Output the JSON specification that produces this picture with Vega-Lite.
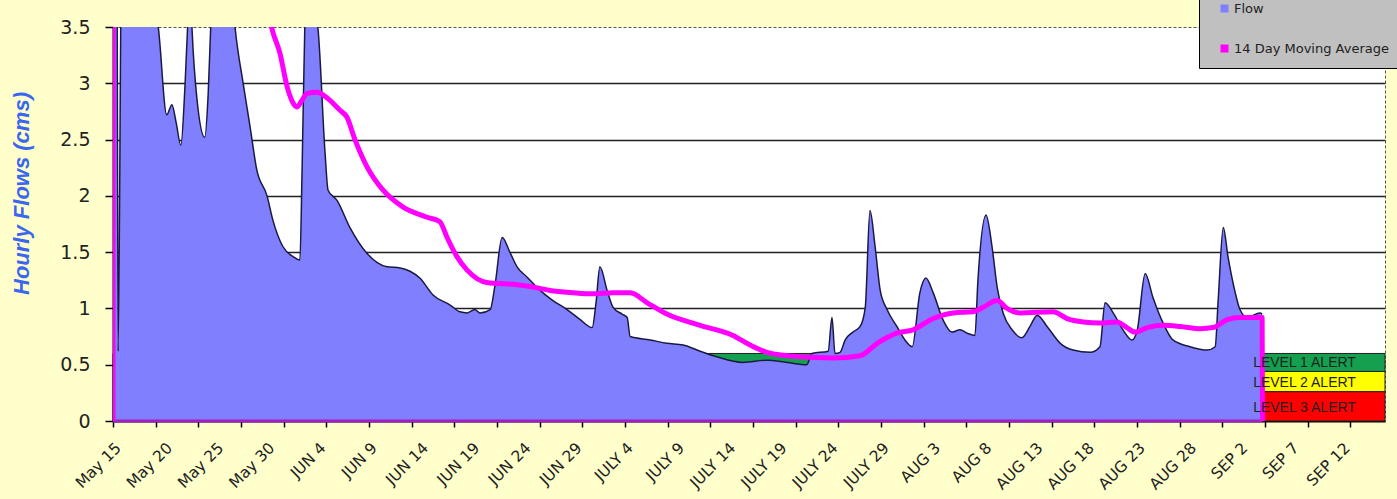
{
  "$schema": "https://vega.github.io/schema/vega-lite/v6.json",
  "width": 1272,
  "height": 394,
  "autosize": {"type": "none"},
  "padding": {"left": 113, "top": 27, "right": 12, "bottom": 78},
  "background": "#FFFFCC",
  "config": {"view": {"fill": "#FFFFFF", "stroke": "#555555", "strokeDash": [3, 2], "strokeWidth": 1}},
  "datasets": {
    "flow": [
      {"t": "2024-05-15T00:00Z", "v": 4.5},
      {"t": "2024-05-15T09:00Z", "v": 4.5},
      {"t": "2024-05-15T12:00Z", "v": 0.62},
      {"t": "2024-05-15T21:00Z", "v": 4.5},
      {"t": "2024-05-17T00:00Z", "v": 4.2},
      {"t": "2024-05-19T06:00Z", "v": 3.6},
      {"t": "2024-05-19T10:00Z", "v": 3.5},
      {"t": "2024-05-20T06:00Z", "v": 2.72},
      {"t": "2024-05-20T18:00Z", "v": 2.81},
      {"t": "2024-05-21T04:00Z", "v": 2.65},
      {"t": "2024-05-21T15:00Z", "v": 2.45},
      {"t": "2024-05-22T01:00Z", "v": 3.0},
      {"t": "2024-05-22T08:00Z", "v": 3.6},
      {"t": "2024-05-22T12:00Z", "v": 4.0},
      {"t": "2024-05-22T17:00Z", "v": 3.5},
      {"t": "2024-05-23T05:00Z", "v": 2.85},
      {"t": "2024-05-23T23:00Z", "v": 2.52},
      {"t": "2024-05-24T07:00Z", "v": 2.9},
      {"t": "2024-05-24T14:00Z", "v": 3.6},
      {"t": "2024-05-25T11:00Z", "v": 4.5},
      {"t": "2024-05-26T15:00Z", "v": 3.8},
      {"t": "2024-05-26T22:00Z", "v": 3.5},
      {"t": "2024-05-27T17:00Z", "v": 3.0},
      {"t": "2024-05-28T09:00Z", "v": 2.62},
      {"t": "2024-05-29T01:00Z", "v": 2.23},
      {"t": "2024-05-30T01:00Z", "v": 2.0},
      {"t": "2024-05-30T15:00Z", "v": 1.78},
      {"t": "2024-05-31T14:00Z", "v": 1.55},
      {"t": "2024-06-01T14:00Z", "v": 1.46},
      {"t": "2024-06-02T06:00Z", "v": 1.43},
      {"t": "2024-06-02T11:00Z", "v": 2.2},
      {"t": "2024-06-02T18:00Z", "v": 3.6},
      {"t": "2024-06-03T08:00Z", "v": 4.5},
      {"t": "2024-06-03T20:00Z", "v": 3.6},
      {"t": "2024-06-04T00:00Z", "v": 3.5},
      {"t": "2024-06-04T17:00Z", "v": 2.38},
      {"t": "2024-06-05T00:00Z", "v": 2.05},
      {"t": "2024-06-05T21:00Z", "v": 1.96},
      {"t": "2024-06-07T03:00Z", "v": 1.72},
      {"t": "2024-06-08T19:00Z", "v": 1.49},
      {"t": "2024-06-10T18:00Z", "v": 1.37},
      {"t": "2024-06-12T01:00Z", "v": 1.36},
      {"t": "2024-06-13T00:00Z", "v": 1.33},
      {"t": "2024-06-13T23:00Z", "v": 1.27},
      {"t": "2024-06-15T06:00Z", "v": 1.12},
      {"t": "2024-06-16T22:00Z", "v": 1.03},
      {"t": "2024-06-17T21:00Z", "v": 0.97},
      {"t": "2024-06-18T14:00Z", "v": 0.96},
      {"t": "2024-06-19T08:00Z", "v": 0.99},
      {"t": "2024-06-19T20:00Z", "v": 0.96},
      {"t": "2024-06-20T20:00Z", "v": 0.99},
      {"t": "2024-06-21T07:00Z", "v": 1.2},
      {"t": "2024-06-22T00:00Z", "v": 1.63},
      {"t": "2024-06-22T18:00Z", "v": 1.5},
      {"t": "2024-06-23T11:00Z", "v": 1.37},
      {"t": "2024-06-24T10:00Z", "v": 1.28},
      {"t": "2024-06-25T17:00Z", "v": 1.16},
      {"t": "2024-06-26T23:00Z", "v": 1.07},
      {"t": "2024-06-28T08:00Z", "v": 0.99},
      {"t": "2024-06-29T15:00Z", "v": 0.9},
      {"t": "2024-06-30T19:00Z", "v": 0.83},
      {"t": "2024-07-01T04:00Z", "v": 1.05},
      {"t": "2024-07-01T13:00Z", "v": 1.37},
      {"t": "2024-07-02T06:00Z", "v": 1.16},
      {"t": "2024-07-02T20:00Z", "v": 1.01},
      {"t": "2024-07-03T17:00Z", "v": 0.95},
      {"t": "2024-07-04T05:00Z", "v": 0.92},
      {"t": "2024-07-04T12:00Z", "v": 0.75},
      {"t": "2024-07-06T11:00Z", "v": 0.72},
      {"t": "2024-07-08T02:00Z", "v": 0.69},
      {"t": "2024-07-09T16:00Z", "v": 0.675},
      {"t": "2024-07-11T08:00Z", "v": 0.62},
      {"t": "2024-07-12T23:00Z", "v": 0.57},
      {"t": "2024-07-15T12:00Z", "v": 0.52},
      {"t": "2024-07-17T21:00Z", "v": 0.54},
      {"t": "2024-07-19T20:00Z", "v": 0.52},
      {"t": "2024-07-21T18:00Z", "v": 0.5},
      {"t": "2024-07-22T06:00Z", "v": 0.6},
      {"t": "2024-07-23T20:00Z", "v": 0.62},
      {"t": "2024-07-24T05:00Z", "v": 0.92},
      {"t": "2024-07-24T12:00Z", "v": 0.6},
      {"t": "2024-07-25T00:00Z", "v": 0.61},
      {"t": "2024-07-25T12:00Z", "v": 0.72},
      {"t": "2024-07-26T06:00Z", "v": 0.79},
      {"t": "2024-07-26T23:00Z", "v": 0.84},
      {"t": "2024-07-27T11:00Z", "v": 1.01},
      {"t": "2024-07-27T22:00Z", "v": 1.87},
      {"t": "2024-07-28T10:00Z", "v": 1.55},
      {"t": "2024-07-28T22:00Z", "v": 1.16},
      {"t": "2024-07-29T14:00Z", "v": 0.99},
      {"t": "2024-07-30T13:00Z", "v": 0.84},
      {"t": "2024-07-31T08:00Z", "v": 0.72},
      {"t": "2024-08-01T01:00Z", "v": 0.66},
      {"t": "2024-08-01T19:00Z", "v": 1.14},
      {"t": "2024-08-02T09:00Z", "v": 1.27},
      {"t": "2024-08-03T02:00Z", "v": 1.14},
      {"t": "2024-08-04T01:00Z", "v": 0.9},
      {"t": "2024-08-04T22:00Z", "v": 0.79},
      {"t": "2024-08-05T17:00Z", "v": 0.81},
      {"t": "2024-08-06T10:00Z", "v": 0.78},
      {"t": "2024-08-07T04:00Z", "v": 0.76},
      {"t": "2024-08-07T11:00Z", "v": 1.25},
      {"t": "2024-08-08T06:00Z", "v": 1.83},
      {"t": "2024-08-08T20:00Z", "v": 1.55},
      {"t": "2024-08-09T08:00Z", "v": 1.19},
      {"t": "2024-08-09T22:00Z", "v": 0.96},
      {"t": "2024-08-10T19:00Z", "v": 0.81},
      {"t": "2024-08-11T18:00Z", "v": 0.74},
      {"t": "2024-08-12T13:00Z", "v": 0.84},
      {"t": "2024-08-13T06:00Z", "v": 0.94},
      {"t": "2024-08-14T05:00Z", "v": 0.84},
      {"t": "2024-08-15T12:00Z", "v": 0.69},
      {"t": "2024-08-16T18:00Z", "v": 0.63},
      {"t": "2024-08-18T10:00Z", "v": 0.61},
      {"t": "2024-08-19T09:00Z", "v": 0.66},
      {"t": "2024-08-19T21:00Z", "v": 1.05},
      {"t": "2024-08-20T16:00Z", "v": 0.96},
      {"t": "2024-08-21T15:00Z", "v": 0.81},
      {"t": "2024-08-22T12:00Z", "v": 0.72},
      {"t": "2024-08-23T00:00Z", "v": 0.8},
      {"t": "2024-08-23T19:00Z", "v": 1.31},
      {"t": "2024-08-24T13:00Z", "v": 1.1},
      {"t": "2024-08-25T13:00Z", "v": 0.87},
      {"t": "2024-08-26T12:00Z", "v": 0.72},
      {"t": "2024-08-28T04:00Z", "v": 0.66},
      {"t": "2024-08-29T20:00Z", "v": 0.63},
      {"t": "2024-08-30T15:00Z", "v": 0.66},
      {"t": "2024-08-30T22:00Z", "v": 1.07},
      {"t": "2024-08-31T10:00Z", "v": 1.72},
      {"t": "2024-08-31T21:00Z", "v": 1.46},
      {"t": "2024-09-01T14:00Z", "v": 1.14},
      {"t": "2024-09-02T01:00Z", "v": 0.99},
      {"t": "2024-09-02T18:00Z", "v": 0.92},
      {"t": "2024-09-04T00:00Z", "v": 0.96},
      {"t": "2024-09-04T05:00Z", "v": 0.95}
    ],
    "ma": [
      {"t": "2024-05-15T00:00Z", "v": 0},
      {"t": "2024-05-15T01:00Z", "v": 6.0},
      {"t": "2024-05-21T13:00Z", "v": 5.0},
      {"t": "2024-05-27T10:00Z", "v": 4.1},
      {"t": "2024-05-30T08:00Z", "v": 3.55},
      {"t": "2024-05-30T15:00Z", "v": 3.45},
      {"t": "2024-05-31T07:00Z", "v": 3.27},
      {"t": "2024-06-01T00:00Z", "v": 2.97},
      {"t": "2024-06-01T12:00Z", "v": 2.84},
      {"t": "2024-06-01T23:00Z", "v": 2.79},
      {"t": "2024-06-02T11:00Z", "v": 2.85},
      {"t": "2024-06-02T23:00Z", "v": 2.91},
      {"t": "2024-06-03T22:00Z", "v": 2.92},
      {"t": "2024-06-04T22:00Z", "v": 2.87},
      {"t": "2024-06-06T04:00Z", "v": 2.76},
      {"t": "2024-06-06T20:00Z", "v": 2.7},
      {"t": "2024-06-07T15:00Z", "v": 2.5},
      {"t": "2024-06-08T19:00Z", "v": 2.26},
      {"t": "2024-06-10T09:00Z", "v": 2.05},
      {"t": "2024-06-12T08:00Z", "v": 1.9},
      {"t": "2024-06-14T16:00Z", "v": 1.81},
      {"t": "2024-06-15T22:00Z", "v": 1.77},
      {"t": "2024-06-16T15:00Z", "v": 1.63},
      {"t": "2024-06-17T14:00Z", "v": 1.46},
      {"t": "2024-06-18T14:00Z", "v": 1.34},
      {"t": "2024-06-20T12:00Z", "v": 1.23},
      {"t": "2024-06-23T11:00Z", "v": 1.21},
      {"t": "2024-06-25T00:00Z", "v": 1.19},
      {"t": "2024-06-26T16:00Z", "v": 1.16},
      {"t": "2024-06-28T22:00Z", "v": 1.14},
      {"t": "2024-06-30T21:00Z", "v": 1.13},
      {"t": "2024-07-02T20:00Z", "v": 1.14},
      {"t": "2024-07-04T12:00Z", "v": 1.14},
      {"t": "2024-07-06T04:00Z", "v": 1.05},
      {"t": "2024-07-08T02:00Z", "v": 0.95},
      {"t": "2024-07-11T08:00Z", "v": 0.85},
      {"t": "2024-07-14T13:00Z", "v": 0.76},
      {"t": "2024-07-16T05:00Z", "v": 0.675},
      {"t": "2024-07-17T21:00Z", "v": 0.61},
      {"t": "2024-07-21T02:00Z", "v": 0.57},
      {"t": "2024-07-24T07:00Z", "v": 0.56},
      {"t": "2024-07-26T23:00Z", "v": 0.58},
      {"t": "2024-07-28T15:00Z", "v": 0.69},
      {"t": "2024-07-30T13:00Z", "v": 0.78},
      {"t": "2024-08-01T03:00Z", "v": 0.81},
      {"t": "2024-08-03T02:00Z", "v": 0.91},
      {"t": "2024-08-05T01:00Z", "v": 0.96},
      {"t": "2024-08-07T00:00Z", "v": 0.97},
      {"t": "2024-08-07T23:00Z", "v": 1.01},
      {"t": "2024-08-09T08:00Z", "v": 1.07},
      {"t": "2024-08-10T07:00Z", "v": 1.0},
      {"t": "2024-08-11T14:00Z", "v": 0.96},
      {"t": "2024-08-14T19:00Z", "v": 0.97},
      {"t": "2024-08-16T04:00Z", "v": 0.91},
      {"t": "2024-08-17T18:00Z", "v": 0.88},
      {"t": "2024-08-19T09:00Z", "v": 0.87},
      {"t": "2024-08-21T01:00Z", "v": 0.88},
      {"t": "2024-08-22T00:00Z", "v": 0.83},
      {"t": "2024-08-22T19:00Z", "v": 0.79},
      {"t": "2024-08-24T00:00Z", "v": 0.83},
      {"t": "2024-08-25T13:00Z", "v": 0.85},
      {"t": "2024-08-27T05:00Z", "v": 0.84},
      {"t": "2024-08-29T04:00Z", "v": 0.82},
      {"t": "2024-08-30T10:00Z", "v": 0.83},
      {"t": "2024-08-31T19:00Z", "v": 0.9},
      {"t": "2024-09-02T01:00Z", "v": 0.92},
      {"t": "2024-09-04T00:00Z", "v": 0.92},
      {"t": "2024-09-04T05:00Z", "v": 0.92},
      {"t": "2024-09-04T06:00Z", "v": 0}
    ],
    "alerts": [
      {"level": "LEVEL 1 ALERT", "t": "2024-05-15T00:00Z", "t2": "2024-09-16T05:00Z", "v": 0.44, "v2": 0.6},
      {"level": "LEVEL 2 ALERT", "t": "2024-05-15T00:00Z", "t2": "2024-09-16T05:00Z", "v": 0.26, "v2": 0.44},
      {"level": "LEVEL 3 ALERT", "t": "2024-05-15T00:00Z", "t2": "2024-09-16T05:00Z", "v": 0, "v2": 0.26}
    ],
    "alertLabels": [
      {"label": "LEVEL 1 ALERT", "t": "2024-09-03T08:00Z", "v": 0.515},
      {"label": "LEVEL 2 ALERT", "t": "2024-09-03T08:00Z", "v": 0.338},
      {"label": "LEVEL 3 ALERT", "t": "2024-09-03T08:00Z", "v": 0.115}
    ],
    "baseline": [
      {"t": "2024-05-15T00:00Z", "t2": "2024-09-04T05:00Z", "v": 0}
    ]
  },
  "encoding": {
    "x": {
      "field": "t",
      "type": "temporal",
      "scale": {"type": "utc", "domain": [1715731200000, 1726462800000]},
      "axis": {
        "title": null,
        "grid": false,
        "values": [1715731200000, 1716163200000, 1716595200000, 1717027200000, 1717459200000, 1717891200000, 1718323200000, 1718755200000, 1719187200000, 1719619200000, 1720051200000, 1720483200000, 1720915200000, 1721347200000, 1721779200000, 1722211200000, 1722643200000, 1723075200000, 1723507200000, 1723939200000, 1724371200000, 1724803200000, 1725235200000, 1725667200000, 1726099200000,
                   1716091200000, 1716451200000, 1716811200000, 1717171200000, 1717531200000, 1718251200000, 1718611200000, 1718971200000, 1719331200000, 1719691200000, 1720411200000, 1720771200000, 1721131200000, 1721491200000, 1721851200000, 1722571200000, 1722931200000, 1723291200000, 1723651200000, 1724011200000, 1724731200000, 1725091200000, 1725451200000, 1725811200000, 1726171200000],
        "labelExpr": "(datum.value - 1715731200000) % 432000000 == 0 ? ((utcmonth(datum.value) == 4 ? 'May ' : utcmonth(datum.value) == 5 ? 'JUN ' : utcmonth(datum.value) == 6 ? 'JULY ' : utcmonth(datum.value) == 7 ? 'AUG ' : 'SEP ') + utcdate(datum.value)) : ''",
        "tickOpacity": {"condition": {"test": "(datum.value - 1715731200000) % 360000000 == 0", "value": 1}, "value": 0},
        "labelAngle": -45,
        "labelAlign": "right",
        "labelBaseline": "top",
        "labelPadding": 13,
        "labelOverlap": false,
        "labelFlush": false,
        "labelBound": false,
        "labelFont": "DejaVu Sans",
        "labelFontSize": 15.5,
        "labelColor": "#222222",
        "tickSize": 6,
        "tickColor": "#000000",
        "tickWidth": 1.5,
        "domainColor": "#000000",
        "domainWidth": 2
      }
    },
    "y": {
      "field": "v",
      "type": "quantitative",
      "scale": {"domain": [0, 3.5], "nice": false, "zero": true},
      "axis": {
        "title": "Hourly Flows (cms)",
        "titleFont": "Liberation Sans",
        "titleFontSize": 22,
        "titleFontStyle": "italic",
        "titleFontWeight": "bold",
        "titleColor": "#3A66F0",
        "titleX": -92,
        "titleY": 166,
        "titleAngle": 270,
        "titleAlign": "center",
        "titleBaseline": "middle",
        "values": [0, 0.5, 1, 1.5, 2, 2.5, 3, 3.5],
        "format": "~g",
        "grid": true,
        "gridColor": "#222222",
        "gridWidth": 1.5,
        "gridOpacity": {"condition": {"test": "datum.value == 3.5 || datum.value == 0", "value": 0}, "value": 1},
        "labelFont": "DejaVu Sans",
        "labelFontSize": 19,
        "labelColor": "#222222",
        "labelPadding": 15,
        "tickSize": 8,
        "tickColor": "#000000",
        "tickWidth": 1.5,
        "domainColor": "#000000",
        "domainWidth": 2
      }
    }
  },
  "layer": [
    {
      "data": {"name": "alerts"},
      "mark": {"type": "rect", "stroke": "#222222", "strokeWidth": 1},
      "encoding": {
        "x2": {"field": "t2"},
        "y2": {"field": "v2"},
        "fill": {
          "field": "level",
          "type": "nominal",
          "scale": {"domain": ["LEVEL 1 ALERT", "LEVEL 2 ALERT", "LEVEL 3 ALERT"], "range": ["#14A04E", "#FFFF00", "#FF0000"]},
          "legend": null
        }
      }
    },
    {
      "data": {"name": "flow"},
      "mark": {"type": "area", "clip": true, "opacity": 1, "interpolate": "monotone"},
      "encoding": {
        "color": {
          "datum": "Flow",
          "scale": {"domain": ["Flow", "14 Day Moving Average"], "range": ["#8080FF", "#FF00FF"]},
          "legend": {
            "orient": "none",
            "legendX": 1086,
            "legendY": -37,
            "title": null,
            "direction": "vertical",
            "fillColor": "#C0C0C0",
            "strokeColor": "#000000",
            "padding": 12,
            "symbolType": "square",
            "symbolSize": 64,
            "symbolOffset": 7,
            "symbolStrokeWidth": 1.5,
            "labelOffset": 3,
            "rowPadding": 26,
            "labelFont": "DejaVu Sans",
            "labelFontSize": 13,
            "labelColor": "#222222",
            "encode": {
              "symbols": {
                "update": {
                  "stroke": [{"test": "datum.value === 'Flow'", "value": "#202080"}, {"value": "#E000E0"}],
                  "fill": [{"test": "datum.value === 'Flow'", "value": "#8080FF"}, {"value": "#FF40FF"}],
                  "opacity": {"value": 1}
                }
              }
            }
          }
        }
      }
    },
    {
      "data": {"name": "flow"},
      "mark": {"type": "line", "clip": true, "color": "#1A1A40", "strokeWidth": 1.5, "interpolate": "monotone"},
      "encoding": {}
    },
    {
      "data": {"name": "baseline"},
      "mark": {"type": "rule", "color": "#A020C0", "strokeWidth": 3},
      "encoding": {"x2": {"field": "t2"}}
    },
    {
      "data": {"name": "ma"},
      "mark": {"type": "line", "clip": true, "color": "#FF00FF", "strokeWidth": 5, "strokeJoin": "round", "interpolate": "monotone"},
      "encoding": {}
    },
    {
      "data": {"name": "alertLabels"},
      "mark": {"type": "text", "align": "left", "baseline": "middle", "font": "Liberation Sans", "fontSize": 14, "color": "#222222"},
      "encoding": {"text": {"field": "label", "type": "nominal"}}
    }
  ]
}
